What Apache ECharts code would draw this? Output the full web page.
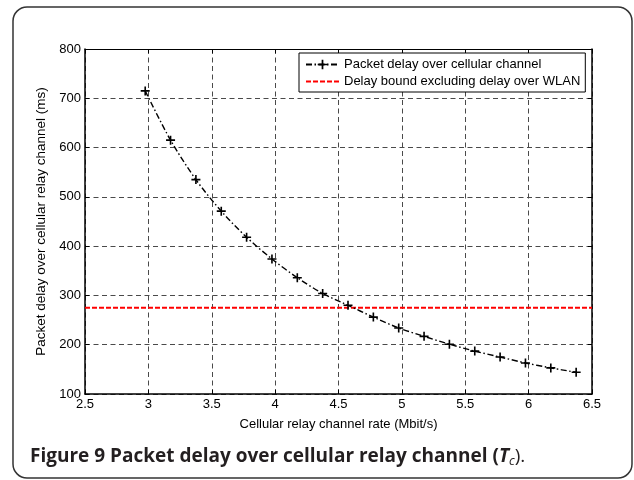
<!DOCTYPE html>
<html>
<head>
<meta charset="utf-8">
<script src="https://cdn.jsdelivr.net/npm/echarts@6/dist/echarts.min.js"></script>
<style>
html,body{margin:0;padding:0;background:#fff;}
#chart{width:634px;height:480px;}
</style>
</head>
<body>
<div id="chart"></div>
<script>
// ---- data ----
const rates = [2.975, 3.175, 3.375, 3.575, 3.775, 3.975, 4.175, 4.375, 4.575, 4.775, 4.975, 5.175, 5.375, 5.575, 5.775, 5.975, 6.175, 6.375];
const delays = [715, 615, 535, 471, 418, 374, 336, 304, 280, 256, 234, 217, 201, 187, 175, 163, 153, 144];
const boundValue = 275;
const boundRange = [2.5, 6.5];
const seriesNames = ['Packet delay over cellular channel', 'Delay bound excluding delay over WLAN'];
const xTitle = 'Cellular relay channel rate (Mbit/s)';
const yTitle = 'Packet delay over cellular relay channel (ms)';

const chart = echarts.init(document.getElementById('chart'), null, {renderer: 'canvas'});
const plus = 'path://M-0.18,-1H0.18V-0.18H1V0.18H0.18V1H-0.18V0.18H-1V-0.18H-0.18Z';
const font = 'Liberation Sans, Arial, sans-serif';
const gridDash = {color: '#4a4a4a', width: 1, type: [5, 3.5]};

chart.setOption({
  animation: false,
  backgroundColor: '#fff',
  grid: {left: 85, top: 49, right: 42, bottom: 86, containLabel: false},
  legend: {
    orient: 'vertical',
    left: 299, top: 53,
    padding: [5, 5, 4, 6],
    itemGap: 4,
    itemWidth: 33, itemHeight: 12,
    borderColor: '#000', borderWidth: 1,
    backgroundColor: '#fff',
    textStyle: {fontFamily: font, fontSize: 13, color: '#000'},
    data: [{name: seriesNames[0]}, {name: seriesNames[1], itemStyle: {opacity: 0}}]
  },
  xAxis: [{
    type: 'value', min: 2.5, max: 6.5, interval: 0.5,
    name: xTitle, nameLocation: 'middle', nameGap: 24,
    nameTextStyle: {fontFamily: font, fontSize: 13, color: '#000'},
    axisLine: {lineStyle: {color: '#000', width: 1.5}},
    axisTick: {inside: true, length: 4, lineStyle: {color: '#000'}},
    axisLabel: {fontFamily: font, fontSize: 13, color: '#000', margin: 4},
    splitLine: {show: true, lineStyle: gridDash}
  }, {
    type: 'value', min: 2.5, max: 6.5, interval: 0.5, position: 'top',
    axisLine: {show: true, lineStyle: {color: '#000', width: 1}},
    axisTick: {inside: true, length: 4, lineStyle: {color: '#000'}},
    axisLabel: {show: false}, splitLine: {show: false}
  }],
  yAxis: [{
    type: 'value', min: 100, max: 800, interval: 100,
    name: yTitle, nameLocation: 'middle', nameGap: 31,
    nameTextStyle: {fontFamily: font, fontSize: 13.5, color: '#000'},
    axisLine: {show: true, lineStyle: {color: '#000', width: 1.5}},
    axisTick: {show: true, inside: true, length: 4, lineStyle: {color: '#000'}},
    axisLabel: {fontFamily: font, fontSize: 13, color: '#000', margin: 4},
    splitLine: {show: true, lineStyle: gridDash}
  }, {
    type: 'value', min: 100, max: 800, interval: 100, position: 'right',
    axisLine: {show: true, lineStyle: {color: '#000', width: 1.5}},
    axisTick: {show: true, inside: true, length: 4, lineStyle: {color: '#000'}},
    axisLabel: {show: false}, splitLine: {show: false}
  }],
  series: [{
    name: seriesNames[0],
    type: 'line',
    data: rates.map((r, i) => [r, delays[i]]),
    smooth: 0.3,
    symbol: plus, symbolSize: 9,
    itemStyle: {color: '#000'},
    lineStyle: {color: '#000', width: 1.4, type: [6, 2.5, 1.5, 2.5]},
    z: 5
  }, {
    name: seriesNames[1],
    type: 'line',
    data: boundRange.map(r => [r, boundValue]),
    symbol: 'none',
    itemStyle: {color: '#ff0000'},
    lineStyle: {color: '#ff0000', width: 2, type: [5, 2]},
    z: 4
  }],
  graphic: [{
    type: 'rect',
    shape: {x: 13, y: 7, width: 619, height: 471, r: 14},
    style: {fill: 'none', stroke: '#333', lineWidth: 1.5},
    silent: true
  }, {
    type: 'text',
    left: 30, top: 447,
    style: {
      text: '{b|Figure 9 Packet delay over cellular relay channel (}{i|T}{sub|c}{r|).}',
      rich: {
        b: {fontFamily: 'Open Sans', fontWeight: 'bold', fontSize: 19, fill: '#231f20'},
        i: {fontFamily: 'Open Sans', fontWeight: 'bold', fontStyle: 'italic', fontSize: 19, fill: '#231f20'},
        sub: {fontFamily: 'Open Sans', fontStyle: 'italic', fontSize: 12.5, fill: '#231f20', padding: [9, 0, 0, 0]},
        r: {fontFamily: 'Open Sans', fontSize: 19, fill: '#231f20'}
      }
    }
  }]
});
</script>
</body>
</html>
